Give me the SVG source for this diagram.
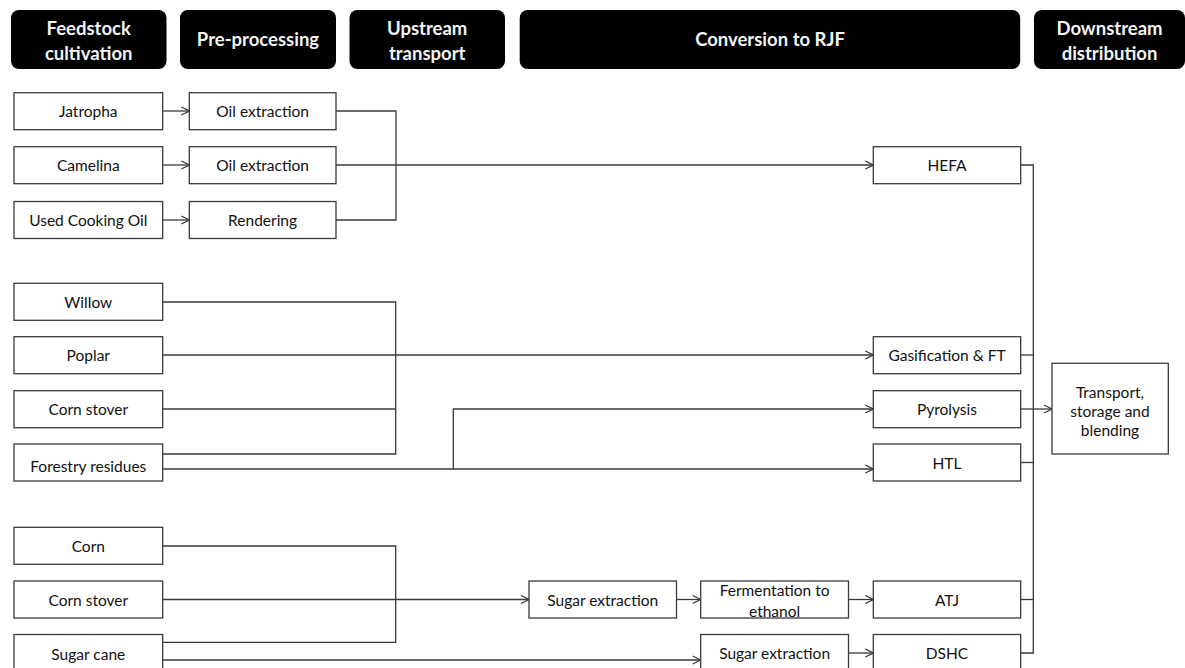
<svg xmlns="http://www.w3.org/2000/svg" width="1185" height="668" viewBox="0 0 1185 668">
  <style>
    .hdr rect { fill: #000; }
    .hdr text { fill: #f4f4f4; font-family: Lato, "Liberation Sans", sans-serif; font-weight: bold; font-size: 18.5px; text-anchor: middle; }
    .node rect { fill: #fff; stroke: #3a3a3a; stroke-width: 1.3; }
    .node text { fill: #111; font-family: Lato, "Liberation Sans", sans-serif; font-size: 15.5px; text-anchor: middle; dominant-baseline: central; }
    .conn path { fill: none; stroke: #3a3a3a; stroke-width: 1.3; }
    .arr { marker-end: url(#chev); }
  </style>
  <defs>
    <marker id="chev" viewBox="0 0 10 10" refX="9" refY="5" markerWidth="10" markerHeight="10" markerUnits="userSpaceOnUse" orient="auto">
      <path d="M1,1 L9,5 L1,9" fill="none" stroke="#3a3a3a" stroke-width="1.3"/>
    </marker>
  </defs>

  <!-- stage headers -->
  <g id="hdr-feedstock" class="hdr">
    <rect x="11" y="10" width="155.5" height="59" rx="8"/>
    <text x="88.7" y="34.5">Feedstock</text>
    <text x="88.7" y="59.5">cultivation</text>
  </g>
  <g id="hdr-preprocessing" class="hdr">
    <rect x="180" y="10" width="156" height="59" rx="8"/>
    <text x="258" y="46">Pre-processing</text>
  </g>
  <g id="hdr-upstream" class="hdr">
    <rect x="349.5" y="10" width="155.5" height="59" rx="8"/>
    <text x="427.2" y="34.5">Upstream</text>
    <text x="427.2" y="59.5">transport</text>
  </g>
  <g id="hdr-conversion" class="hdr">
    <rect x="519.7" y="10" width="500.5" height="59" rx="8"/>
    <text x="770" y="46">Conversion to RJF</text>
  </g>
  <g id="hdr-downstream" class="hdr">
    <rect x="1034" y="10" width="151" height="59" rx="8"/>
    <text x="1109.5" y="34.5">Downstream</text>
    <text x="1109.5" y="59.5">distribution</text>
  </g>

  <!-- connectors -->
  <g id="connectors" class="conn">
    <!-- oil pathway -->
    <path class="arr" d="M162.7,111 H189.3"/>
    <path class="arr" d="M162.7,165 H189.3"/>
    <path class="arr" d="M162.7,220 H189.3"/>
    <path d="M336,111 H396 V220 H336"/>
    <path class="arr" d="M336,165 H873.3"/>
    <!-- lignocellulosic pathway -->
    <path d="M162.7,302 H395.7 V454 H162.7"/>
    <path d="M162.7,409 H395.7"/>
    <path class="arr" d="M162.7,355 H873.3"/>
    <path class="arr" d="M162.7,469 H873.3"/>
    <path class="arr" d="M453.3,469 V409 H873.3"/>
    <!-- sugar pathway -->
    <path d="M162.7,546 H395.7 V642.3 H162.7"/>
    <path class="arr" d="M162.7,599.5 H529"/>
    <path class="arr" d="M162.7,660 H700.7"/>
    <path class="arr" d="M676.5,599.5 H700.7"/>
    <path class="arr" d="M848.5,599.5 H873.3"/>
    <path class="arr" d="M848.5,653 H873.3"/>
    <!-- collector to downstream -->
    <path d="M1020.7,165 H1033.3 V653 H1020.7"/>
    <path d="M1020.7,355 H1033.3"/>
    <path d="M1020.7,462.5 H1033.3"/>
    <path d="M1020.7,599.5 H1033.3"/>
    <path class="arr" d="M1020.7,409 H1052"/>
  </g>

  <!-- feedstock nodes -->
  <g id="n-jatropha" class="node"><rect x="14" y="92.7" width="148.7" height="37"/><text x="88.3" y="111.2">Jatropha</text></g>
  <g id="n-camelina" class="node"><rect x="14" y="146.7" width="148.7" height="37"/><text x="88.3" y="165.2">Camelina</text></g>
  <g id="n-uco" class="node"><rect x="14" y="201.5" width="148.7" height="37"/><text x="88.3" y="220">Used Cooking Oil</text></g>
  <g id="n-willow" class="node"><rect x="14" y="283.3" width="148.7" height="37"/><text x="88.3" y="301.8">Willow</text></g>
  <g id="n-poplar" class="node"><rect x="14" y="336.7" width="148.7" height="37"/><text x="88.3" y="355.2">Poplar</text></g>
  <g id="n-cornstover1" class="node"><rect x="14" y="390.7" width="148.7" height="37"/><text x="88.3" y="409.2">Corn stover</text></g>
  <g id="n-forestry" class="node"><rect x="14" y="444" width="148.7" height="37"/><text x="88.3" y="466">Forestry residues</text></g>
  <g id="n-corn" class="node"><rect x="14" y="527.3" width="148.7" height="37"/><text x="88.3" y="545.8">Corn</text></g>
  <g id="n-cornstover2" class="node"><rect x="14" y="581" width="148.7" height="37"/><text x="88.3" y="599.5">Corn stover</text></g>
  <g id="n-sugarcane" class="node"><rect x="14" y="634.5" width="148.7" height="37"/><text x="88.3" y="654">Sugar cane</text></g>

  <!-- pre-processing nodes -->
  <g id="n-oil1" class="node"><rect x="189.3" y="92.7" width="146.7" height="37"/><text x="262.6" y="111.2">Oil extraction</text></g>
  <g id="n-oil2" class="node"><rect x="189.3" y="146.7" width="146.7" height="37"/><text x="262.6" y="165.2">Oil extraction</text></g>
  <g id="n-rendering" class="node"><rect x="189.3" y="201.5" width="146.7" height="37"/><text x="262.6" y="220">Rendering</text></g>

  <!-- conversion nodes -->
  <g id="n-sugarext1" class="node"><rect x="529" y="581" width="147.5" height="37"/><text x="602.7" y="599.5">Sugar extraction</text></g>
  <g id="n-ferment" class="node"><rect x="700.7" y="581" width="147.8" height="37"/><text x="774.6" y="590">Fermentation to</text><text x="774.6" y="611">ethanol</text></g>
  <g id="n-sugarext2" class="node"><rect x="700.7" y="634.5" width="147.8" height="37"/><text x="774.6" y="653">Sugar extraction</text></g>
  <g id="n-hefa" class="node"><rect x="873.3" y="146.7" width="147.4" height="37"/><text x="947" y="165.2">HEFA</text></g>
  <g id="n-gasft" class="node"><rect x="873.3" y="336.7" width="147.4" height="37"/><text x="947" y="355.2">Gasification &amp; FT</text></g>
  <g id="n-pyrolysis" class="node"><rect x="873.3" y="390.7" width="147.4" height="37"/><text x="947" y="409.2">Pyrolysis</text></g>
  <g id="n-htl" class="node"><rect x="873.3" y="444" width="147.4" height="37"/><text x="947" y="462.5">HTL</text></g>
  <g id="n-atj" class="node"><rect x="873.3" y="581" width="147.4" height="37"/><text x="947" y="599.5">ATJ</text></g>
  <g id="n-dshc" class="node"><rect x="873.3" y="634.5" width="147.4" height="37"/><text x="947" y="653">DSHC</text></g>

  <!-- downstream node -->
  <g id="n-transport" class="node">
    <rect x="1052" y="363.3" width="116.3" height="90.7"/>
    <text x="1110" y="391.5">Transport,</text>
    <text x="1110" y="410.5">storage and</text>
    <text x="1110" y="430">blending</text>
  </g>
</svg>
